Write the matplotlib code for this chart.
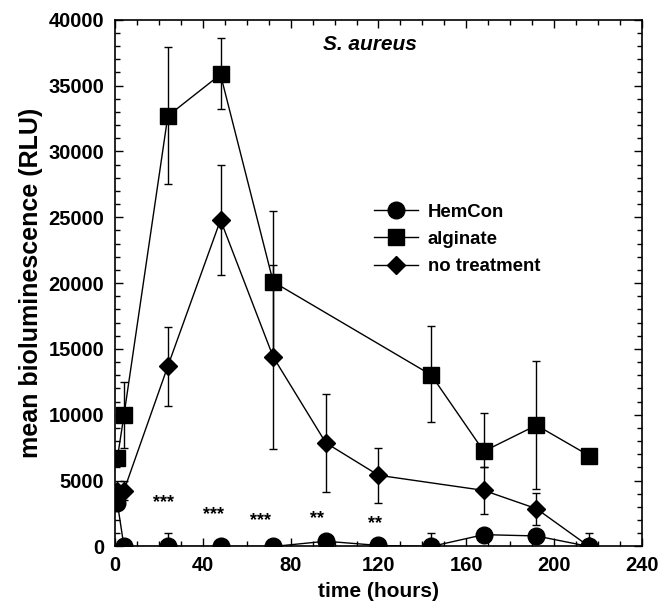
import matplotlib
matplotlib.use("Agg")
import matplotlib.pyplot as plt
from matplotlib.ticker import MultipleLocator
from matplotlib.lines import Line2D

plt.rcParams['font.family'] = ['Liberation Sans', 'DejaVu Sans']
plt.rcParams['font.weight'] = 'bold'

# HemCon
t_hem = [1, 4, 24, 48, 72, 96, 120, 144, 168, 192, 216]
v_hem = [3300, 0, 0, 0, 0, 400, 80, 0, 900, 800, 0]
e_hem = [0, 0, 1000, 0, 0, 0, 0, 1000, 0, 0, 1000]

# alginate
t_alg = [1, 4, 24, 48, 72, 144, 168, 192, 216]
v_alg = [6720, 9970, 32700, 35850, 20100, 13030, 7230, 9210, 6900]
e_alg_lo = [0, 2500, 5200, 2650, 5400, 3550, 1220, 4820, 0]
e_alg_hi = [0, 2500, 5200, 2750, 5400, 3700, 2920, 4860, 0]

# no treatment
t_no = [1, 4, 24, 48, 72, 96, 120, 168, 192, 216]
v_no = [4200, 4250, 13700, 24800, 14400, 7870, 5410, 4260, 2870, 0]
e_no = [0, 750, 3000, 4150, 7000, 3700, 2100, 1800, 1200, 0]

# significance marks
star_t = [22, 45, 66, 92, 118.5]
star_y = [3350, 2450, 1950, 2150, 1750]
star_txt = ['***', '***', '***', '**', '**']

fig = plt.figure(figsize=(6.62, 6.04), dpi=100)
ax = fig.add_axes([0.174, 0.0952, 0.7955, 0.872])

common = dict(color='black', ecolor='black', elinewidth=1.0, capsize=3,
              capthick=1.0, lw=1.0, markeredgecolor='black', markerfacecolor='black')
ax.errorbar(t_hem, v_hem, yerr=e_hem, fmt='-o', ms=12, **common, zorder=3)
ax.errorbar(t_alg, v_alg, yerr=[e_alg_lo, e_alg_hi], fmt='-s', ms=11, **common, zorder=3)
ax.errorbar(t_no, v_no, yerr=e_no, fmt='-D', ms=9, **common, zorder=3)

for x, y, s in zip(star_t, star_y, star_txt):
    ax.text(x, y, s, ha='center', va='center', fontsize=13, fontweight='bold')

ax.text(116, 38150, 'S. aureus', ha='center', va='center', fontsize=15,
        fontweight='bold', style='italic')

ax.set_xlim(0, 240)
ax.set_ylim(0, 40000)
ax.xaxis.set_major_locator(MultipleLocator(40))
ax.xaxis.set_minor_locator(MultipleLocator(10))
ax.yaxis.set_major_locator(MultipleLocator(5000))
ax.yaxis.set_minor_locator(MultipleLocator(1000))
ax.tick_params(which='both', direction='in', top=True, right=True, width=1)
ax.tick_params(which='major', length=6, labelsize=14.5)
ax.tick_params(axis='y', which='major', pad=8)
ax.tick_params(axis='x', which='major', pad=7)
ax.tick_params(which='minor', length=3.5)
for lab in ax.get_xticklabels() + ax.get_yticklabels():
    lab.set_fontweight('bold')
for sp in ax.spines.values():
    sp.set_linewidth(1.2)

ax.set_xlabel('time (hours)', fontsize=15, fontweight='bold', labelpad=5)
ax.set_ylabel('mean bioluminescence (RLU)', fontsize=18, fontweight='bold', labelpad=4)

handles = [Line2D([], [], color='black', lw=1, marker='o', ms=12),
           Line2D([], [], color='black', lw=1, marker='s', ms=11),
           Line2D([], [], color='black', lw=1, marker='D', ms=9)]
leg = ax.legend(handles, ['HemCon', 'alginate', 'no treatment'], loc='upper left',
                bbox_to_anchor=(0.459, 0.683), frameon=False,
                handlelength=2.4, labelspacing=0.56, handletextpad=0.5,
                prop={'weight': 'bold', 'size': 13.4})

fig.savefig('out.png', dpi=100)
